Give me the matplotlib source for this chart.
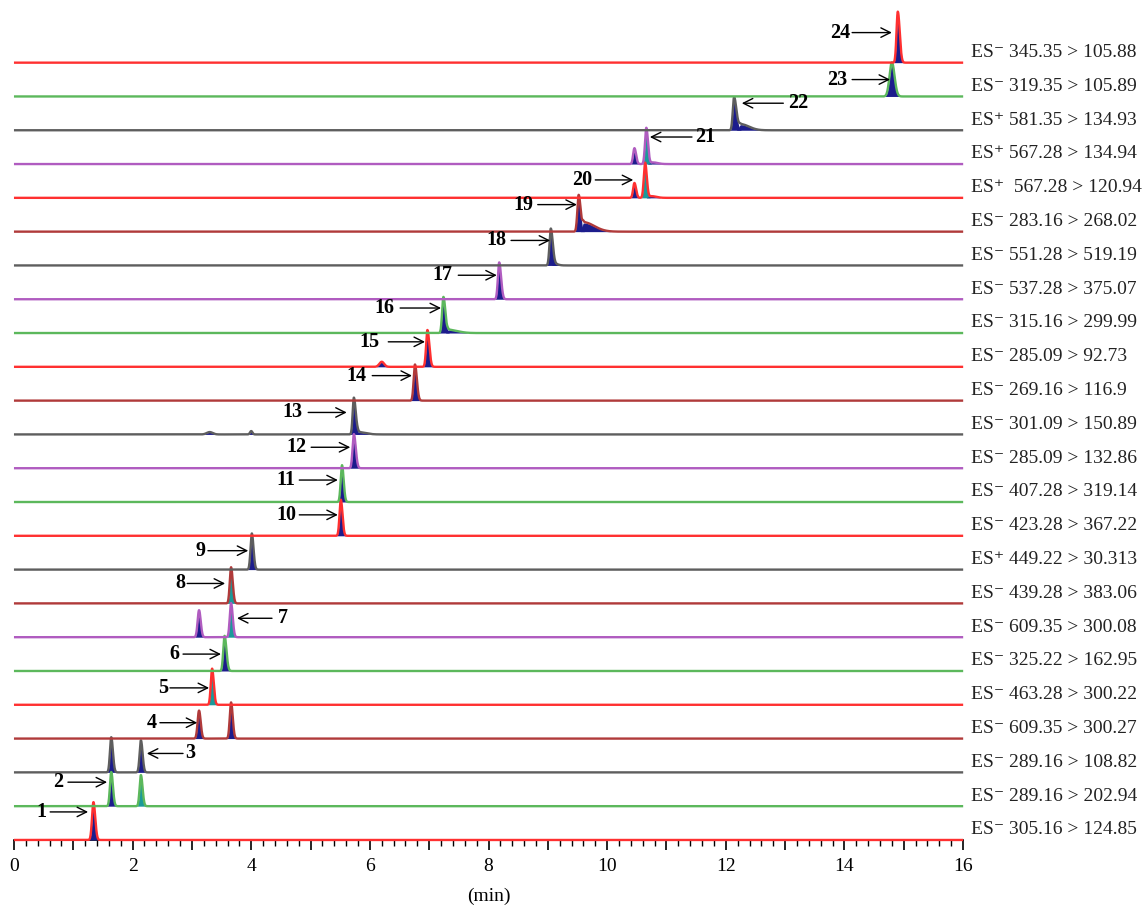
import numpy as np
import matplotlib.pyplot as plt
from matplotlib.ticker import MultipleLocator

plt.rcParams['font.family'] = ['Liberation Serif', 'DejaVu Serif']

# MRM channels, bottom to top
channels = [
    'ES\u207b 305.16 > 124.85', 'ES\u207b 289.16 > 202.94', 'ES\u207b 289.16 > 108.82',
    'ES\u207b 609.35 > 300.27', 'ES\u207b 463.28 > 300.22', 'ES\u207b 325.22 > 162.95',
    'ES\u207b 609.35 > 300.08', 'ES\u207b 439.28 > 383.06', 'ES\u207a 449.22 > 30.313',
    'ES\u207b 423.28 > 367.22', 'ES\u207b 407.28 > 319.14', 'ES\u207b 285.09 > 132.86',
    'ES\u207b 301.09 > 150.89', 'ES\u207b 269.16 > 116.9', 'ES\u207b 285.09 > 92.73',
    'ES\u207b 315.16 > 299.99', 'ES\u207b 537.28 > 375.07', 'ES\u207b 551.28 > 519.19',
    'ES\u207b 283.16 > 268.02', 'ES\u207a  567.28 > 120.94', 'ES\u207a 567.28 > 134.94',
    'ES\u207a 581.35 > 134.93', 'ES\u207b 319.35 > 105.89', 'ES\u207b 345.35 > 105.88',
]

# peaks per channel: (retention time min, relative height, width, tailing)
peaks = [
    [(1.34, 112, 0.024, 0.03)],
    [(1.64, 101, 0.022, 0.028), (2.14, 92, 0.022, 0.028)],
    [(1.64, 104, 0.022, 0.028), (2.14, 95, 0.022, 0.028)],
    [(3.12, 83, 0.024, 0.028), (3.66, 107, 0.022, 0.028)],
    [(3.34, 107, 0.022, 0.028)],
    [(3.55, 104, 0.022, 0.032)],
    [(3.12, 80, 0.024, 0.028), (3.66, 101, 0.022, 0.028)],
    [(3.66, 107, 0.022, 0.028)],
    [(4.01, 107, 0.022, 0.028)],
    [(5.51, 107, 0.022, 0.028)],
    [(5.53, 109, 0.022, 0.028)],
    [(5.73, 101, 0.022, 0.032)],
    [(5.73, 109, 0.02, 0.032), (5.8, 7, 0.02, 0.12), (3.3, 7, 0.05, 0.05), (4.0, 10, 0.02, 0.02)],
    [(6.76, 107, 0.022, 0.032)],
    [(6.97, 109, 0.022, 0.032), (6.2, 15, 0.04, 0.04)],
    [(7.24, 107, 0.022, 0.032), (7.32, 10, 0.02, 0.15)],
    [(8.18, 109, 0.022, 0.032)],
    [(9.05, 109, 0.022, 0.032), (9.1, 6, 0.02, 0.06)],
    [(9.52, 109, 0.022, 0.032), (9.6, 28, 0.02, 0.18)],
    [(10.46, 44, 0.022, 0.028), (10.64, 104, 0.022, 0.028), (10.75, 5, 0.05, 0.08)],
    [(10.46, 47, 0.022, 0.028), (10.66, 107, 0.022, 0.028), (10.77, 5, 0.05, 0.08)],
    [(12.14, 98, 0.022, 0.04), (12.25, 18, 0.03, 0.14)],
    [(14.8, 101, 0.04, 0.045)],
    [(14.9, 151, 0.022, 0.032)],
]

# peak annotations: (number, channel, label x, arrow tail x, arrow tip x, height above baseline)
labels = [
    ('1', 0, 0.47, 0.61, 1.25, 83), ('2', 1, 0.74, 0.91, 1.57, 71),
    ('3', 2, 2.97, 2.85, 2.24, 56), ('4', 3, 2.33, 2.46, 3.09, 47),
    ('5', 4, 2.51, 2.63, 3.29, 50), ('6', 5, 2.71, 2.85, 3.49, 50),
    ('7', 6, 4.54, 4.35, 3.76, 56), ('8', 7, 2.80, 2.92, 3.56, 59),
    ('9', 8, 3.14, 3.27, 3.95, 56), ('10', 9, 4.60, 4.81, 5.46, 62),
    ('11', 10, 4.59, 4.81, 5.46, 65), ('12', 11, 4.77, 5.01, 5.67, 62),
    ('13', 12, 4.70, 4.96, 5.61, 65), ('14', 13, 5.77, 6.04, 6.71, 74),
    ('15', 14, 5.99, 6.31, 6.93, 74), ('16', 15, 6.24, 6.51, 7.20, 74),
    ('17', 16, 7.23, 7.49, 8.14, 71), ('18', 17, 8.14, 8.38, 9.04, 74),
    ('19', 18, 8.58, 8.83, 9.49, 80), ('20', 19, 9.58, 9.80, 10.44, 53),
    ('21', 20, 11.65, 11.43, 10.72, 80), ('22', 21, 13.22, 12.97, 12.27, 80),
    ('23', 22, 13.88, 14.13, 14.77, 50), ('24', 23, 13.93, 14.13, 14.80, 89),
]

red, green, grey, maroon, purple = '#ff3030', '#5cb85c', '#5e5e5e', '#b03a3a', '#b05cc0'
line_colors = [red, green, grey, maroon, red, green, purple, maroon, grey,
               red, green, purple, grey, maroon, red, green, purple, grey,
               maroon, red, purple, grey, green, red]
navy = '#1c1c8c'
teal = '#1a9a9a'
teal_peaks = {(1, 1), (4, 0), (6, 1), (7, 0), (19, 1), (20, 1)}

fig = plt.figure(figsize=(11.45, 9.07), dpi=100)
ax = fig.add_axes([0.0122, 0.0739, 0.8289, 0.9129])

t = np.linspace(0, 16.05, 6000)


def peak_shape(rt, h, w, tail):
    sig = np.where(t < rt, w, tail)
    return h / 100 * np.exp(-0.5 * ((t - rt) / sig) ** 2)


for i, (chan_peaks, color) in enumerate(zip(peaks, line_colors)):
    total = np.zeros_like(t)
    for j, (rt, h, w, tail) in enumerate(chan_peaks):
        y = peak_shape(rt, h, w, tail)
        total += y
        fc = teal if (i, j) in teal_peaks else navy
        ax.fill_between(t, i, i + y * 0.92, where=y > 0.01, color=fc, lw=0, zorder=3)
    ax.plot(t, i + total, color=color, lw=1.7, zorder=4, solid_capstyle='butt')
    ax.text(16.13, i + 0.3, channels[i], fontsize=14, va='center', ha='left', color='#222222')

for num, chan, tx, x0, x1, dy in labels:
    y = chan + dy / 100
    ax.text(tx, y, num, fontsize=14.5, fontweight='bold', ha='center', va='center', zorder=5)
    ax.annotate('', xy=(x1, y), xytext=(x0, y),
                arrowprops=dict(arrowstyle='->', lw=1.0, color='black',
                                mutation_scale=17, shrinkA=0, shrinkB=0), zorder=5)

ax.set_xlim(0, 16)
ax.set_ylim(0, 24.5)
for side in ['top', 'right', 'left']:
    ax.spines[side].set_visible(False)
ax.spines['bottom'].set_linewidth(1.2)
ax.set_yticks([])
ax.xaxis.set_minor_locator(MultipleLocator(0.2))
ax.set_xticks(range(0, 17))
ax.set_xticklabels([str(v) if v % 2 == 0 else '' for v in range(0, 17)], fontsize=14)
ax.tick_params(axis='x', which='major', length=7, width=1.2, pad=6)
ax.tick_params(axis='x', which='minor', length=4.5, width=1.0)
ax.set_xlabel('(min)', fontsize=14, labelpad=9)
for artist in ax.get_children():
    artist.set_clip_on(False)

fig.savefig('out.png', dpi=100)
